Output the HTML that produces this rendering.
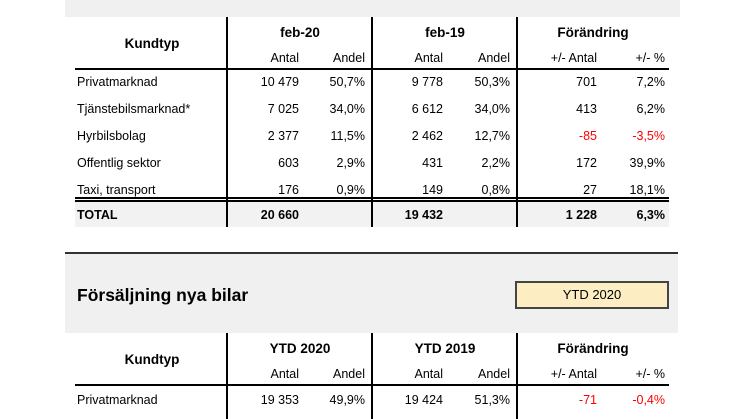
<!DOCTYPE html>
<html><head><meta charset="utf-8"><style>
body{margin:0;width:746px;height:419px;background:#fff;position:relative;overflow:hidden;font-family:"Liberation Sans",Arial,sans-serif;font-size:12.5px;color:#000}
div{position:absolute}
.t{white-space:nowrap;line-height:16px}
.r{text-align:right}
.c{text-align:center}
.b{font-weight:bold}
.red{color:#f00}
.vl{width:2px;background:#000}
.hl{height:2px;background:#000}
</style></head><body>
<div style="left:65px;top:0;width:615px;height:17px;background:#f0f0f0"></div>
<div style="left:75px;top:202px;width:594px;height:25px;background:#f2f2f2"></div>
<div id="t1"></div>

<div style="left:65px;top:252px;width:613px;height:2px;background:#333"></div>
<div style="left:65px;top:254px;width:613px;height:79px;background:#f0f0f0"></div>
<div class="t b" style="left:77px;top:285px;font-size:17.5px;line-height:20px">Försäljning nya bilar</div>
<div class="t c" style="left:515px;top:281px;width:150px;height:24px;line-height:24px;background:#fdedc2;border:2px solid #444;font-size:13px">YTD 2020</div>
<div id="t2"></div>
<script>
const rowLabels=["Privatmarknad","Tjänstebilsmarknad*","Hyrbilsbolag","Offentlig sektor","Taxi, transport"];
const curAntal=["10 479","7 025","2 377","603","176"];
const curAndel=["50,7%","34,0%","11,5%","2,9%","0,9%"];
const prevAntal=["9 778","6 612","2 462","431","149"];
const prevAndel=["50,3%","34,0%","12,7%","2,2%","0,8%"];
const chgAntal=["701","413","-85","172","27"];
const chgPct=["7,2%","6,2%","-3,5%","39,9%","18,1%"];
const totals=["20 660","19 432","1 228","6,3%"];
const ytdLabels=["Privatmarknad"];
const ytdCurAntal=["19 353"],ytdCurAndel=["49,9%"],ytdPrevAntal=["19 424"],ytdPrevAndel=["51,3%"],ytdChgAntal=["-71"],ytdChgPct=["-0,4%"];

const colR=[299,365,443,510,597,665];
function add(parent,html,style,cls,name){
  const d=document.createElement('div');
  d.className=cls||'';d.style.cssText=style;d.innerHTML=html;
  
  
  document.body.appendChild(d);return d;
}
function txt(s,x,y,cls,name,right){
  const red=s.startsWith('-')&&right?' red':'';
  if(right) return add(null,s,`left:${x-90}px;top:${y-8}px;width:90px`,'t r'+(cls||'')+red,name);
  return add(null,s,`left:${x}px;top:${y-8}px`,'t'+(cls||''),name);
}
function header(top,g1,g2,vTop,vBot){
  [227,372,517].forEach(x=>add(null,'',`left:${x-1}px;top:${vTop}px;height:${vBot-vTop}px`,'vl','column-divider'));
  add(null,'Kundtyp',`left:102px;top:${top+19}px;width:100px;font-size:13.5px`,'t c b','kundtyp-header');
  [[g1,300],[g2,445],['Förändring',593]].forEach(([s,cx])=>add(null,s,`left:${cx-60}px;top:${top+8}px;width:120px;font-size:13.5px`,'t c b','group-header'));
  const subs=['Antal','Andel','Antal','Andel','+/- Antal','+/- %'];
  subs.forEach((s,i)=>txt(s,colR[i],top+41,'','sub-header',true));
  add(null,'',`left:75px;top:${top+51}px;width:594px`,'hl','header-rule');
}
header(17,'feb-20','feb-19',17,227);
rowLabels.forEach((l,i)=>{
  const y=82+i*27;
  txt(l,77,y,'','row-label');
  [curAntal[i],curAndel[i],prevAntal[i],prevAndel[i],chgAntal[i],chgPct[i]].forEach((v,j)=>txt(v,colR[j],y,'','cell-value',true));
});
add(null,'','left:75px;top:197px;width:594px;height:1px;border-top:2px solid #000;border-bottom:2px solid #000','','double-rule');
txt('TOTAL',77,215,' b','total-label');
[[totals[0],0],[totals[1],2],[totals[2],4],[totals[3],5]].forEach(([v,j])=>txt(v,colR[j],215,' b','total-value',true));
header(333,'YTD 2020','YTD 2019',333,419);
ytdLabels.forEach((l,i)=>{
  const y=400+i*27;
  txt(l,77,y,'','ytd-row-label');
  [ytdCurAntal[i],ytdCurAndel[i],ytdPrevAntal[i],ytdPrevAndel[i],ytdChgAntal[i],ytdChgPct[i]].forEach((v,j)=>txt(v,colR[j],y,'','ytd-cell-value',true));
});
</script>
</body></html>
